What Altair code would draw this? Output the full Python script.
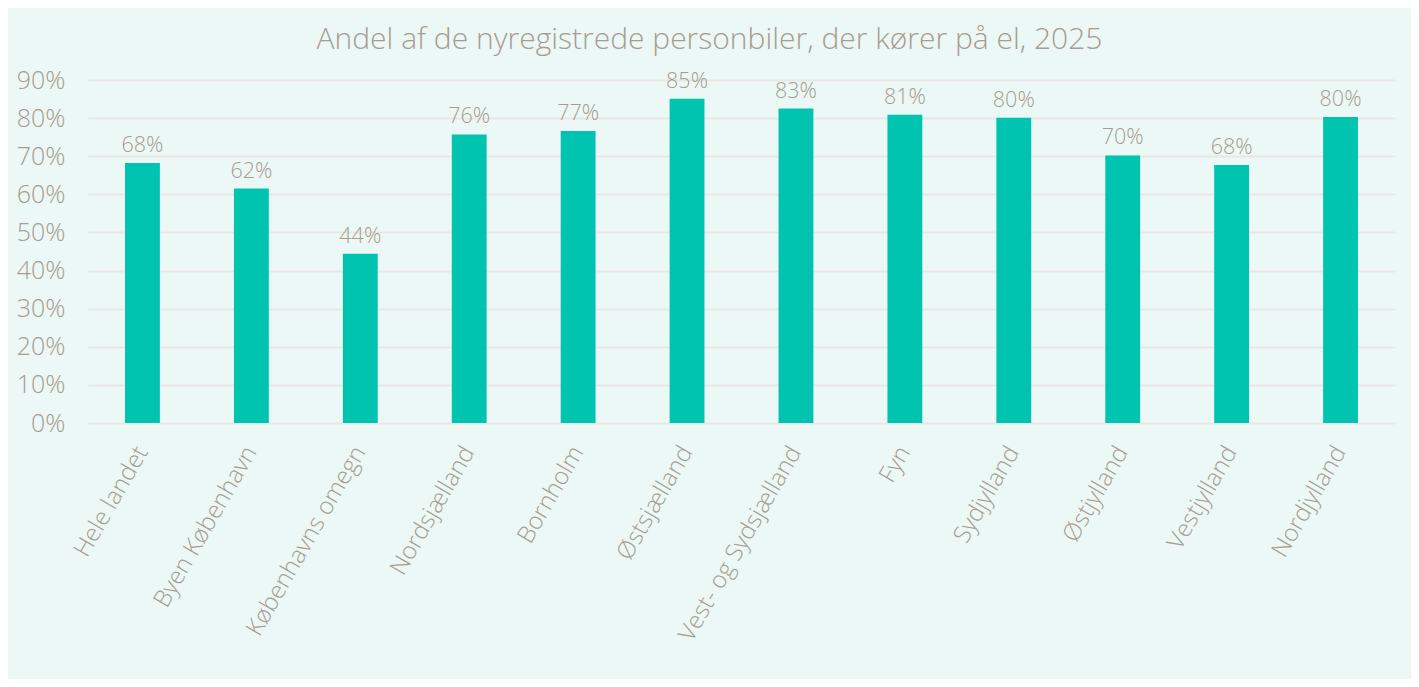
import altair as alt
import pandas as pd

regions = ["Hele landet", "Byen København", "Københavns omegn", "Nordsjælland",
           "Bornholm", "Østsjælland", "Vest- og Sydsjælland", "Fyn",
           "Sydjylland", "Østjylland", "Vestjylland", "Nordjylland"]
shares = [0.682, 0.615, 0.444, 0.757, 0.766, 0.851, 0.825, 0.809,
          0.801, 0.702, 0.677, 0.803]
ytick_values = [0.0, 0.1, 0.2, 0.3, 0.4, 0.5, 0.6, 0.7, 0.8, 0.9]

df = pd.DataFrame({"region": regions, "share": shares})

TXT = "#A89C90"
FONT = "Open Sans"

x = alt.X("region:N", sort=regions,
          scale=alt.Scale(paddingInner=0.68, paddingOuter=0.34),
          axis=alt.Axis(title=None, labelAngle=300, labelAlign="right",
                        labelBaseline="middle", labelPadding=25, labelLimit=400,
                        labelFontSize=24, labelColor=TXT, labelFont=FONT,
                        labelFontWeight=300, ticks=False, domain=False))
y = alt.Y("share:Q", scale=alt.Scale(domain=[0, 0.9], nice=False),
          axis=alt.Axis(title=None, format=".0%", values=ytick_values,
                        labelOverlap=False,
                        labelFontSize=25, labelColor=TXT, labelFont=FONT,
                        labelFontWeight=300, labelPadding=23,
                        ticks=False, domain=False, grid=True,
                        gridColor="#E8E7E3", gridWidth=1.8))

base = alt.Chart(df).encode(x=x, y=y)
bars = base.mark_bar(color="#00C4B0")
labels = base.mark_text(baseline="bottom", dy=-6, fontSize=21.5,
                        color=TXT, font=FONT, fontWeight=300).encode(
    text=alt.Text("share:Q", format=".0%"))

chart = (bars + labels).properties(
    width=1307, height=343,
    autosize=alt.AutoSizeParams(type="none"),
    padding={"left": 80, "top": 72, "right": 16, "bottom": 256},
    background="#EBF8F6",
    title=alt.TitleParams("Andel af de nyregistrede personbiler, der kører på el, 2025",
                          fontSize=30, color=TXT, font=FONT, fontWeight=300,
                          anchor="middle", offset=13, dx=-32),
).configure_view(stroke=None)

chart.save("out.html", embed_options={"renderer": "svg", "actions": False})
